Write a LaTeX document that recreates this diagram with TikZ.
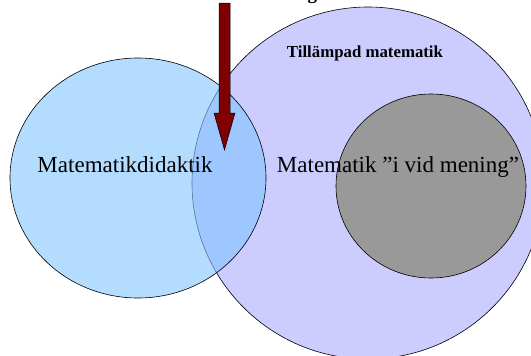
\documentclass[tikz,border=0pt]{standalone}
\usepackage{fontspec}
\setmainfont{Liberation Serif}
\usepackage{xcolor}
\usetikzlibrary{shapes.geometric,calc}
\definecolor{venblue}{RGB}{130,197,255}
\definecolor{venlilac}{HTML}{CCCCFF}
\definecolor{vengray}{HTML}{999999}
\definecolor{venred}{HTML}{7F0000}

\begin{document}
\begin{tikzpicture}[x=1pt, y=-1pt, every node/.style={inner sep=0pt, outer sep=0pt},
  blob/.style={draw, ellipse, line width=0.6pt},
  biglabel/.style={anchor=base, font=\fontsize{23}{23}\selectfont},
  boldlabel/.style={anchor=base, font=\fontsize{16.8}{17}\selectfont\bfseries}]
  \useasboundingbox (0,0) rectangle (531,356);

  % circles
  \node[blob, fill=venlilac, minimum width=352pt, minimum height=352pt] (applied) at (368,183) {};
  \node[blob, fill=vengray, minimum width=190pt, minimum height=184pt] (broad) at (431,186) {};
  \node[blob, fill=venblue, fill opacity=0.6, minimum width=256pt, minimum height=240pt] (didactics) at (138,178) {};

  % texts
  \node[boldlabel, anchor=base west, font=\fontsize{19}{19}\selectfont\bfseries] (title) at (20,-0.8) {Matematik med didaktisk inriktning};
  \node[boldlabel] (appliedlbl) at (365,57) {Tillämpad matematik};
  \node[biglabel] (didacticslbl) at (125,172) {Matematikdidaktik};
  \node[biglabel] (broadlbl) at (398,172) {Matematik ”i vid mening”};

  % block arrow
  \coordinate (arrowstart) at (224.5,3);
  \coordinate (arrowtip) at (224.5,150);
  \draw[fill=venred, line width=0.5pt]
    ($(arrowstart)+(-5.5,0)$) -- ($(arrowstart)+(5.5,0)$) -- ($(arrowtip)+(5.5,-37)$)
    -- ($(arrowtip)+(10.5,-37)$) -- (arrowtip) -- ($(arrowtip)+(-10.5,-37)$)
    -- ($(arrowtip)+(-5.5,-37)$) -- cycle;
\end{tikzpicture}
\end{document}
